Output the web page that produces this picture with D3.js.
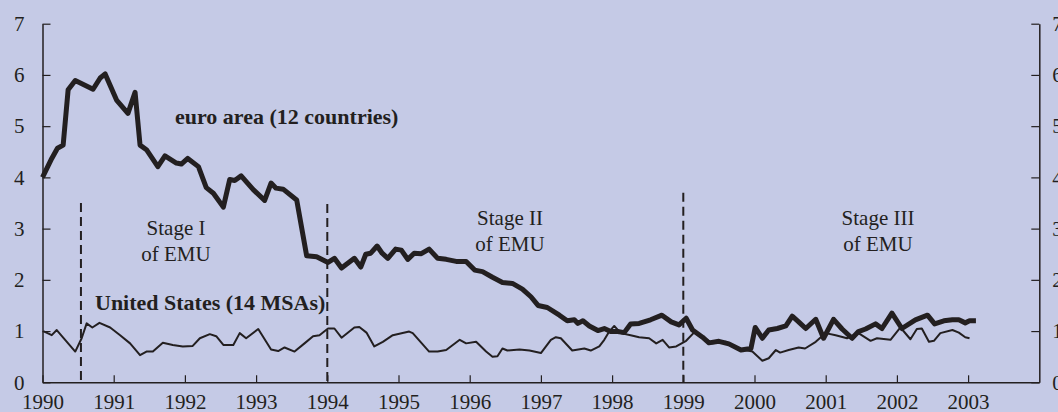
<!DOCTYPE html>
<html>
<head>
<meta charset="utf-8">
<script src="https://cdn.jsdelivr.net/npm/d3@7"></script>
<style>
  html, body { margin: 0; padding: 0; background: #c5cae6; }
  svg { display: block; font-family: 'Liberation Serif', 'Times New Roman', serif; }
</style>
</head>
<body>
<svg id="chart"></svg>
<script>
// Euro area (12 countries), thick line: decimal year / value
const euroYears = [
  1990.00, 1990.13, 1990.21, 1990.29, 1990.36, 1990.46, 1990.71, 1990.81, 1990.88, 1991.04,
  1991.20, 1991.30, 1991.37, 1991.46, 1991.62, 1991.72, 1991.88, 1991.95, 1992.04, 1992.19,
  1992.30, 1992.40, 1992.54, 1992.63, 1992.70, 1992.79, 1992.96, 1993.12, 1993.21, 1993.28,
  1993.38, 1993.57, 1993.71, 1993.85, 1994.01, 1994.10, 1994.20, 1994.38, 1994.47, 1994.54,
  1994.61, 1994.70, 1994.77, 1994.85, 1994.96, 1995.04, 1995.13, 1995.22, 1995.32, 1995.43,
  1995.55, 1995.67, 1995.81, 1995.95, 1996.07, 1996.18, 1996.32, 1996.46, 1996.60, 1996.74,
  1996.86, 1996.96, 1997.09, 1997.26, 1997.37, 1997.47, 1997.52, 1997.59, 1997.68, 1997.80,
  1997.89, 1997.98, 1998.08, 1998.17, 1998.26, 1998.38, 1998.54, 1998.70, 1998.83, 1998.94,
  1999.04, 1999.13, 1999.27, 1999.36, 1999.50, 1999.64, 1999.81, 1999.95, 2000.01, 2000.11,
  2000.20, 2000.32, 2000.44, 2000.53, 2000.62, 2000.72, 2000.86, 2000.97, 2001.11, 2001.23,
  2001.37, 2001.46, 2001.56, 2001.70, 2001.79, 2001.93, 2002.07, 2002.26, 2002.43, 2002.53,
  2002.66, 2002.78, 2002.87, 2002.96, 2003.02, 2003.11
];
const euroValues = [
  4.00, 4.37, 4.57, 4.63, 5.71, 5.89, 5.72, 5.94, 6.02, 5.51,
  5.25, 5.66, 4.63, 4.54, 4.21, 4.42, 4.28, 4.26, 4.37, 4.21,
  3.80, 3.69, 3.42, 3.96, 3.94, 4.03, 3.76, 3.55, 3.89, 3.79,
  3.77, 3.56, 2.47, 2.45, 2.34, 2.42, 2.23, 2.42, 2.25, 2.50,
  2.52, 2.66, 2.52, 2.42, 2.60, 2.58, 2.40, 2.52, 2.51, 2.60,
  2.42, 2.40, 2.36, 2.36, 2.19, 2.16, 2.05, 1.95, 1.93, 1.82,
  1.67, 1.50, 1.46, 1.31, 1.20, 1.22, 1.15, 1.20, 1.10, 1.01,
  1.05, 0.99, 0.99, 0.97, 1.14, 1.15, 1.22, 1.31, 1.18, 1.12,
  1.25, 1.02, 0.88, 0.77, 0.80, 0.75, 0.63, 0.66, 1.07, 0.86,
  1.02, 1.05, 1.10, 1.29, 1.18, 1.05, 1.23, 0.86, 1.23, 1.04,
  0.86, 0.99, 1.04, 1.14, 1.05, 1.35, 1.05, 1.22, 1.31, 1.14,
  1.20, 1.22, 1.22, 1.16, 1.20, 1.20
];

// United States (14 MSAs), thin line
const usYears = [
  1990.01, 1990.13, 1990.20, 1990.46, 1990.55, 1990.62, 1990.70, 1990.80, 1990.95, 1991.09,
  1991.23, 1991.37, 1991.46, 1991.55, 1991.69, 1991.83, 1991.97, 1992.11, 1992.21, 1992.35,
  1992.44, 1992.54, 1992.68, 1992.77, 1992.86, 1993.03, 1993.21, 1993.31, 1993.40, 1993.54,
  1993.68, 1993.80, 1993.89, 1994.01, 1994.10, 1994.20, 1994.38, 1994.45, 1994.55, 1994.66,
  1994.78, 1994.92, 1995.15, 1995.20, 1995.43, 1995.55, 1995.67, 1995.86, 1995.95, 1996.09,
  1996.23, 1996.32, 1996.39, 1996.46, 1996.53, 1996.70, 1996.84, 1997.00, 1997.14, 1997.21,
  1997.28, 1997.44, 1997.61, 1997.70, 1997.82, 1997.89, 1997.96, 1998.03, 1998.12, 1998.26,
  1998.38, 1998.52, 1998.62, 1998.71, 1998.80, 1998.90, 1999.04, 1999.15, 1999.27, 1999.41,
  1999.60, 1999.78, 1999.97, 2000.11, 2000.20, 2000.30, 2000.36, 2000.48, 2000.62, 2000.71,
  2000.86, 2001.00, 2001.14, 2001.30, 2001.46, 2001.63, 2001.72, 2001.91, 2002.05, 2002.19,
  2002.28, 2002.35, 2002.45, 2002.52, 2002.61, 2002.78, 2002.87, 2002.96, 2003.02
];
const usValues = [
  1.00, 0.92, 1.02, 0.60, 0.86, 1.15, 1.07, 1.16, 1.07, 0.92,
  0.76, 0.53, 0.60, 0.60, 0.77, 0.73, 0.70, 0.71, 0.86, 0.94,
  0.90, 0.73, 0.73, 0.96, 0.86, 1.04, 0.64, 0.61, 0.68, 0.60,
  0.76, 0.90, 0.92, 1.05, 1.05, 0.87, 1.07, 1.08, 0.97, 0.70,
  0.79, 0.92, 0.99, 0.96, 0.60, 0.60, 0.63, 0.83, 0.76, 0.79,
  0.60, 0.50, 0.51, 0.66, 0.62, 0.64, 0.62, 0.57, 0.83, 0.88,
  0.86, 0.62, 0.66, 0.62, 0.70, 0.83, 0.99, 1.10, 0.96, 0.92,
  0.88, 0.86, 0.76, 0.83, 0.68, 0.70, 0.81, 0.97, 0.88, 0.76,
  0.79, 0.66, 0.60, 0.42, 0.47, 0.63, 0.58, 0.63, 0.68, 0.66,
  0.79, 0.96, 0.92, 0.86, 0.96, 0.81, 0.86, 0.83, 1.07, 0.84,
  1.04, 1.05, 0.79, 0.81, 0.96, 1.02, 0.97, 0.88, 0.86
];

// Axis ticks
const yearTicks = [1990, 1991, 1992, 1993, 1994, 1995, 1996, 1997, 1998, 1999, 2000, 2001, 2002, 2003];
const valueTicks = [0, 1, 2, 3, 4, 5, 6, 7];

// Stage boundaries (dashed lines) and their top value
const stageBreaks = [1990.54, 1994.0, 1999.0];
const stageBreakTops = [3.5, 3.48, 3.7];

const width = 1058;
const height = 412;
const ink = '#231f20';

const svg = d3.select('#chart')
  .attr('width', width)
  .attr('height', height);

svg.append('rect')
  .attr('width', width)
  .attr('height', height)
  .attr('fill', '#c5cae6');

// Scales
const x = d3.scaleLinear().domain([1990, 2004]).range([42.5, 1039.3]);
const y = d3.scaleLinear().domain([0, 7]).range([382.3, 23.7]);

// Axes (ticks point inward)
const styleAxis = (g) => {
  g.selectAll('path.domain').attr('stroke', ink).attr('stroke-width', 1.5);
  g.selectAll('.tick line').attr('stroke', ink).attr('stroke-width', 1.2);
  g.selectAll('.tick text')
    .attr('fill', ink)
    .style('font-family', "'Liberation Serif', serif")
    .style('font-size', '21px');
};

svg.append('g')
  .attr('transform', `translate(0, ${y(0)})`)
  .call(d3.axisBottom(x).tickValues(yearTicks).tickFormat(d3.format('d'))
    .tickSizeInner(-7).tickSizeOuter(0).tickPadding(12))
  .call(styleAxis);

svg.append('g')
  .attr('transform', `translate(${x(1990)}, 0)`)
  .call(d3.axisLeft(y).tickValues(valueTicks).tickFormat(d3.format('d'))
    .tickSizeInner(-8).tickSizeOuter(0).tickPadding(18))
  .call(styleAxis);

svg.append('g')
  .attr('transform', `translate(${x(2004)}, 0)`)
  .call(d3.axisRight(y).tickValues(valueTicks).tickFormat(d3.format('d'))
    .tickSizeInner(-8).tickSizeOuter(0).tickPadding(13))
  .call(styleAxis);

// Dashed stage lines
svg.selectAll('.stage-line')
  .data(stageBreaks)
  .enter()
  .append('line')
  .attr('x1', (d) => x(d))
  .attr('x2', (d) => x(d))
  .attr('y1', (d, i) => y(stageBreakTops[i]))
  .attr('y2', y(0))
  .attr('stroke', ink)
  .attr('stroke-width', 2)
  .attr('stroke-dasharray', '9,5');

// Lines
const line = d3.line()
  .x((d) => x(d[0]))
  .y((d) => y(d[1]));

const euro = euroYears.map((t, i) => [t, euroValues[i]]);
const us = usYears.map((t, i) => [t, usValues[i]]);

svg.append('path')
  .datum(us)
  .attr('d', line)
  .attr('fill', 'none')
  .attr('stroke', ink)
  .attr('stroke-width', 2)
  .attr('stroke-linejoin', 'round');

svg.append('path')
  .datum(euro)
  .attr('d', line)
  .attr('fill', 'none')
  .attr('stroke', ink)
  .attr('stroke-width', 5)
  .attr('stroke-linejoin', 'round');

// Series labels
svg.append('text')
  .attr('x', 175)
  .attr('y', 123.5)
  .attr('fill', ink)
  .style('font-size', '22px')
  .style('font-weight', 'bold')
  .text('euro area (12 countries)');

svg.append('text')
  .attr('x', 95)
  .attr('y', 309.5)
  .attr('fill', ink)
  .style('font-size', '22px')
  .style('font-weight', 'bold')
  .text('United States (14 MSAs)');

// Stage labels
const stages = [
  { cx: 176, top: 235, lines: ['Stage I', 'of EMU'] },
  { cx: 510, top: 225, lines: ['Stage II', 'of EMU'] },
  { cx: 878, top: 225, lines: ['Stage III', 'of EMU'] },
];

stages.forEach((s) => {
  s.lines.forEach((txt, i) => {
    svg.append('text')
      .attr('x', s.cx)
      .attr('y', s.top + i * 25.5)
      .attr('fill', ink)
      .style('text-anchor', 'middle')
      .style('font-size', '21px')
      .text(txt);
  });
});
</script>
</body>
</html>
